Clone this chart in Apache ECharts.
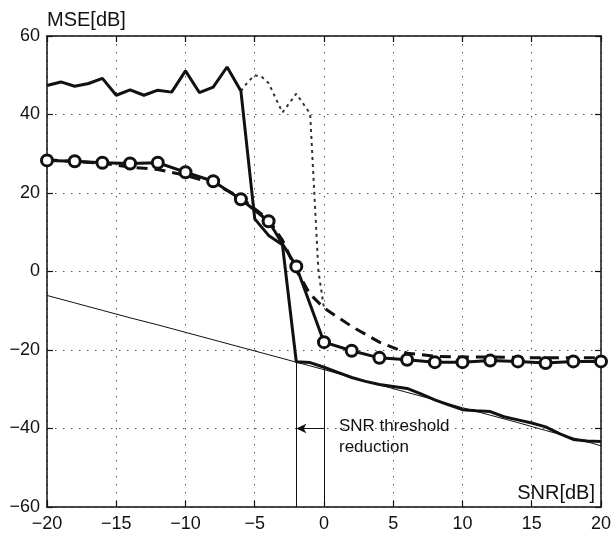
<!DOCTYPE html>
<html style="height: 100%">
<head>
    <meta charset="utf-8">
    <title>MSE vs SNR</title>
    <script src="https://cdn.jsdelivr.net/npm/echarts@6/dist/echarts.min.js"></script>
</head>
<body style="height: 100%; margin: 0; background: #fff">
<div id="main" style="width: 614px; height: 533px"></div>
<script type="text/javascript">
// x positions (SNR, dB)
var snrEven = [-20, -18, -16, -14, -12, -10, -8, -6, -4, -2, 0, 2, 4, 6, 8, 10, 12, 14, 16, 18, 20];
var snrUnit = [-20, -19, -18, -17, -16, -15, -14, -13, -12, -11, -10, -9, -8, -7, -6, -5, -4, -3, -2, -1,
               0, 1, 2, 3, 4, 5, 6, 7, 8, 9, 10, 11, 12, 13, 14, 15, 16, 17, 18, 19, 20];
var snrDashed = [-20, -18, -16, -14, -12, -10, -8, -6, -4, -3, -2, -1, 0, 2, 4, 6, 8, 10, 12, 14, 16, 18, 20];
var snrDotted = [-6, -5.5, -5, -4.5, -4, -3, -2, -1, -0.7, -0.4, 0];

// MSE values (dB)
var boundMse = [-6.1, -8.0, -9.9, -11.8, -13.6, -15.5, -17.4, -19.3, -21.2, -23.1, -25.0,
                -27.0, -28.9, -30.8, -32.7, -34.7, -36.6, -38.5, -40.5, -42.4, -44.4];
var circleMse = [28.3, 28.1, 27.7, 27.5, 27.7, 25.3, 23.0, 18.4, 12.8, 1.3, -18.0,
                 -20.2, -22.0, -22.5, -23.1, -23.1, -22.7, -22.9, -23.3, -22.9, -22.9];
var thickMse = [47.4, 48.3, 47.2, 47.9, 49.2, 44.9, 46.3, 44.9, 46.2, 45.7, 51.1, 45.6, 47.0, 52.1, 46.0,
                13.4, 9.2, 6.8, -23.0, -23.2, -24.4, -25.7, -27.0, -28.0, -28.8, -29.3, -29.8, -31.2,
                -32.7, -34.0, -35.2, -35.5, -35.7, -37.0, -37.8, -38.6, -39.6, -41.3, -42.8, -43.2, -43.3];
var dashedMse = [28.5, 28.0, 27.6, 26.6, 26.0, 24.5, 22.5, 18.8, 13.2, 8.0, 0.3, -5.8, -9.3,
                 -14.0, -18.0, -20.8, -21.6, -21.8, -21.8, -21.9, -22.0, -22.0, -22.0];
var dottedMse = [46.0, 48.3, 50.0, 49.6, 48.0, 40.5, 45.3, 40.2, 20.0, 0.0, -9.3];

// threshold annotation
var thresholdOld = 0, thresholdNew = -2, arrowLevel = -40;

var xTicks = { min: -20, max: 20, interval: 5 };
var yTicks = { min: -60, max: 60, interval: 20 };

function pairs(xs, ys) {
    var res = [];
    for (var i = 0; i < xs.length; i++) {
        res.push([xs[i], ys[i]]);
    }
    return res;
}

var font = "'Liberation Sans', Arial, sans-serif";
var ink = '#111';

var myChart = echarts.init(document.getElementById('main'));

var gridDots = { show: true, lineStyle: { color: '#555', width: 1, type: [1.5, 6.5] } };
var boxLine = { show: true, onZero: false, lineStyle: { color: ink, width: 1.5 } };
var tickIn = { show: true, inside: true, length: 6, lineStyle: { color: ink, width: 1.2 } };

function minusFmt(v) {
    return v < 0 ? '\u2212' + (-v) : String(v);
}

var option = {
    animation: false,
    backgroundColor: '#fff',
    textStyle: { fontFamily: font },
    grid: { left: 47, right: 11, top: 36, bottom: 26, containLabel: false },
    xAxis: [{
        type: 'value', min: xTicks.min, max: xTicks.max, interval: xTicks.interval,
        position: 'bottom',
        axisLine: boxLine, axisTick: tickIn, splitLine: gridDots,
        axisLabel: { color: ink, fontSize: 18, margin: 8, fontFamily: font, formatter: minusFmt },
        name: 'SNR[dB]', nameLocation: 'end', nameGap: -6,
        nameTextStyle: { color: ink, fontSize: 20, align: 'right', verticalAlign: 'bottom',
                         padding: [0, 0, 4, 0], fontFamily: font }
    }, {
        type: 'value', min: xTicks.min, max: xTicks.max, interval: xTicks.interval,
        position: 'top',
        axisLine: boxLine, axisTick: tickIn, axisLabel: { show: false }, splitLine: { show: false }
    }],
    yAxis: [{
        type: 'value', min: yTicks.min, max: yTicks.max, interval: yTicks.interval,
        position: 'left',
        axisLine: boxLine, axisTick: tickIn, splitLine: gridDots,
        axisLabel: { color: ink, fontSize: 18, margin: 7, fontFamily: font, formatter: minusFmt },
        name: 'MSE[dB]', nameLocation: 'end', nameGap: 6,
        nameTextStyle: { color: ink, fontSize: 20, align: 'left', fontFamily: font }
    }, {
        type: 'value', min: yTicks.min, max: yTicks.max, interval: yTicks.interval,
        position: 'right',
        axisLine: boxLine, axisTick: tickIn, axisLabel: { show: false }, splitLine: { show: false }
    }],
    series: [{
        name: 'bound',
        type: 'line',
        data: pairs(snrEven, boundMse),
        symbol: 'none',
        lineStyle: { color: ink, width: 1 },
        z: 2,
        markLine: {
            silent: true,
            symbol: ['none', 'none'],
            lineStyle: { color: ink, width: 1, type: 'solid' },
            label: { show: false },
            data: [
                [{ coord: [thresholdNew, yTicks.min] }, { coord: [thresholdNew, boundMse[9]] }],
                [{ coord: [thresholdOld, yTicks.min] }, { coord: [thresholdOld, thickMse[20]] }],
                [{ coord: [thresholdOld, arrowLevel], symbol: 'none' },
                 { coord: [thresholdNew, arrowLevel], symbol: 'arrow', symbolSize: [7, 10],
                   label: { show: true, position: 'start', distance: 15, formatter: 'SNR threshold\nreduction',
                            color: ink, fontSize: 17, lineHeight: 21, fontFamily: font,
                            align: 'left', offset: [0, 8] } }]
            ]
        }
    }, {
        name: 'dotted',
        type: 'line',
        data: pairs(snrDotted, dottedMse),
        symbol: 'none',
        lineStyle: { color: '#333', width: 2, type: [3, 4] },
        z: 3
    }, {
        name: 'dashed',
        type: 'line',
        data: pairs(snrDashed, dashedMse),
        symbol: 'none',
        lineStyle: { color: ink, width: 3, type: [11, 7] },
        z: 4
    }, {
        name: 'circles',
        type: 'line',
        data: pairs(snrEven, circleMse),
        symbol: 'circle',
        symbolSize: 11,
        showAllSymbol: true,
        itemStyle: { color: '#fff', borderColor: ink, borderWidth: 3 },
        lineStyle: { color: ink, width: 3 },
        z: 6
    }, {
        name: 'thick',
        type: 'line',
        data: pairs(snrUnit, thickMse),
        symbol: 'none',
        lineStyle: { color: ink, width: 3 },
        z: 5
    }]
};

myChart.setOption(option);
</script>
</body>
</html>
